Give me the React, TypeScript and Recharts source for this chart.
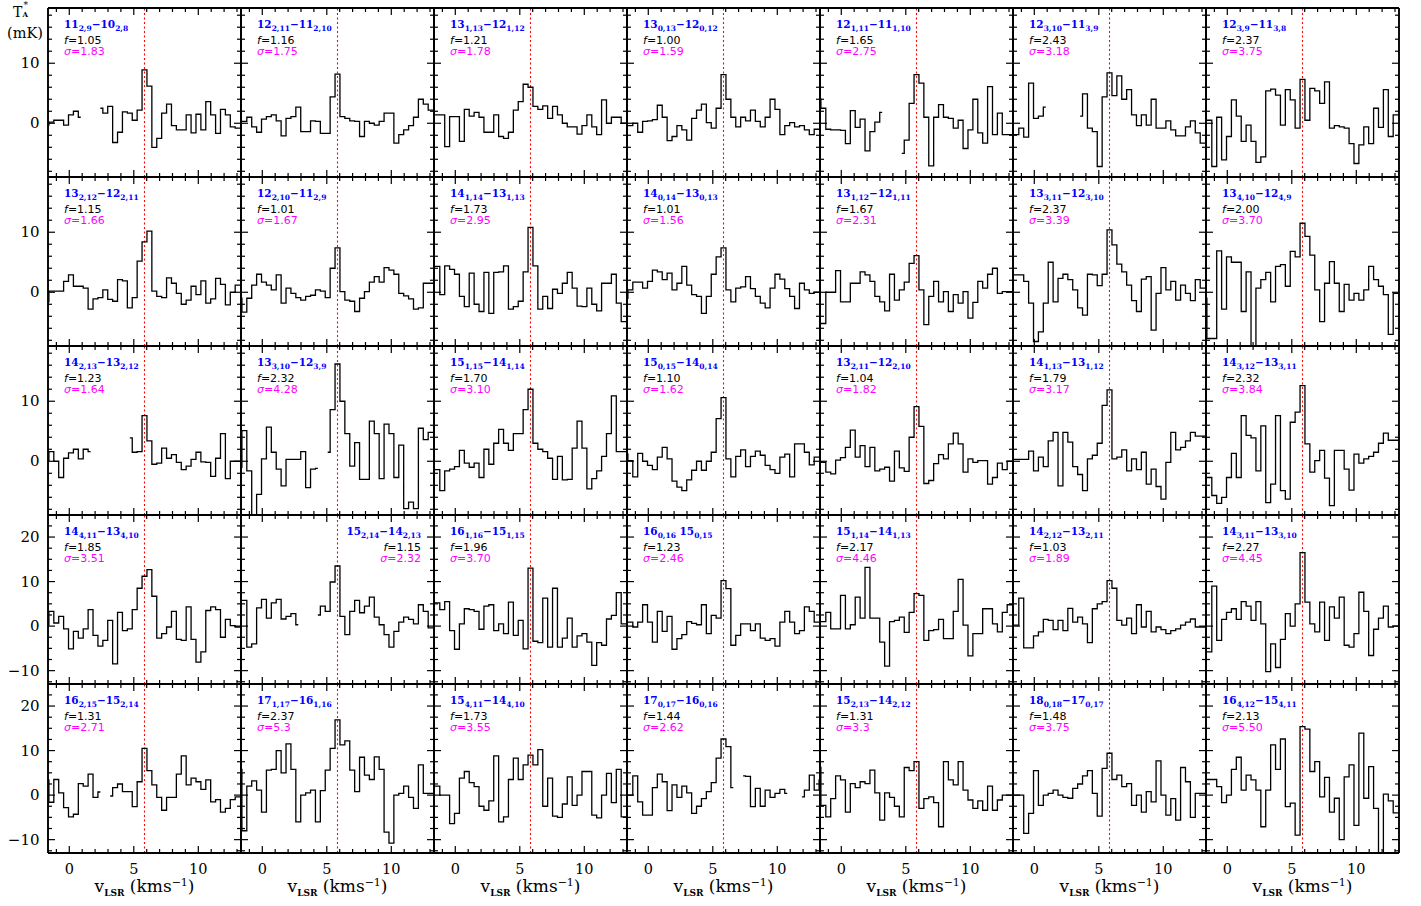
import React from "react";
import { LineChart, Line, XAxis, YAxis, ReferenceLine } from "recharts";

// channel centres in km/s, shared by every panel
const VELO = [-1.77, -1.39, -1.01, -0.63, -0.25, 0.13, 0.51, 0.89, 1.27, 1.65, 2.03, 2.41, 2.79, 3.17, 3.55, 3.93, 4.31, 4.69, 5.07, 5.45, 5.83, 6.21, 6.59, 6.97, 7.35, 7.73, 8.11, 8.49, 8.87, 9.25, 9.63, 10.01, 10.39, 10.77, 11.15, 11.53, 11.91, 12.29, 12.67, 13.05, 13.43];

// antenna temperature (mK) per panel, null = blanked channel
const S01 = [-0.3, 0.2, 0.5, 0.5, -0.3, 1.4, 2.0, 1.0, null, null, null, 2.5, 1.7, 2.8, -3.2, -1.5, 1.9, 1.7, 0.5, 2.2, 8.9, 6.2, -4.0, -2.5, 1.7, 3.2, -0.4, -1.1, -1.1, 1.4, -1.6, 1.5, -1.1, 3.6, 1.4, -1.7, 2.3, 1.4, -0.6, -0.8, -0.8];
const S02 = [0.3, 0.3, 1.0, -0.6, -1.5, 0.7, 1.1, 1.4, 0.4, -2.1, 0.8, 1.1, 2.7, -1.4, -1.4, 0.4, 0.3, -1.7, -1.7, 4.4, 8.2, 1.1, 0.8, 0.4, 0.3, -2.2, 0.3, 0.0, -0.3, 0.3, 1.7, 1.7, -3.3, -1.9, -1.1, -0.4, 1.0, 4.0, 3.2, 2.2, 2.2];
const S03 = [1.4, 1.4, 1.4, -3.9, 1.1, 1.1, -3.0, 2.3, 1.2, 1.8, 1.0, -1.5, -1.5, 1.4, -2.2, -2.5, -1.5, 2.2, 3.6, 6.5, 6.0, 2.8, 2.3, 2.9, 0.8, 2.8, 1.4, 0.0, -0.6, -0.6, -1.8, -0.4, 1.4, -0.6, -1.9, 3.9, 0.0, 1.0, 1.0, 0.0, 0.0];
const S04 = [-0.4, -0.4, 0.0, -1.5, 0.3, 0.4, 0.6, 3.0, 1.0, -2.9, -2.2, -0.4, -1.1, -2.8, 0.8, 2.2, 3.2, 0.1, -0.8, 2.5, 8.1, 4.0, 1.0, -0.6, 1.0, 0.4, 2.2, 0.3, -0.6, 1.0, 4.0, 2.3, -1.9, -0.4, 0.1, -0.6, -0.4, -1.1, -1.9, -1.0, -1.0];
const S05 = [4.0, 2.5, -1.0, -1.1, -1.1, -1.2, -3.4, 2.1, -0.7, 0.7, -4.6, -1.4, 0.2, 1.8, null, null, null, -5.0, -2.8, 3.3, 8.1, 6.7, 1.0, -7.1, 1.0, 3.1, 1.0, 0.8, -0.8, 0.5, -4.2, -1.1, 4.0, -1.6, -3.3, 6.1, -1.9, 1.7, -1.9, -1.9, -1.9];
const S06 = [-1.9, -1.9, -0.8, -2.3, 6.7, 0.8, 1.2, 2.7, null, null, null, null, null, null, 1.2, 4.9, -0.8, -1.4, -7.2, 4.4, 8.4, 4.6, 7.9, 4.0, 5.6, 1.4, -0.4, 1.4, -0.3, 4.0, -0.8, -0.8, 0.4, -1.1, -2.1, -2.1, -0.6, 0.4, -1.6, -3.3, -3.3];
const S07 = [0.5, 0.5, -7.2, 1.0, -6.1, -2.2, 3.9, 1.2, -3.0, -0.3, -3.0, -6.5, -5.6, 5.4, 5.7, 4.7, -0.3, 5.6, 3.9, -0.8, 7.3, 0.5, 5.8, 5.4, 3.3, 6.9, -0.8, -0.4, -0.6, -0.8, -3.4, -6.7, -3.6, -0.6, -3.4, 2.5, -0.7, 5.6, -2.2, 1.4, 1.4];
const S08 = [-1.6, 0.2, 0.2, 0.2, 1.8, 2.9, 1.0, 1.0, 0.7, -2.8, -1.1, -0.9, 0.4, -1.2, -1.5, 2.1, 1.9, -2.6, -0.9, 5.2, 8.4, 10.2, 0.2, -0.7, -0.9, 2.4, 1.5, -0.2, -2.0, -1.3, 1.0, -0.4, 1.9, -1.8, -1.1, 2.3, 1.3, -2.1, 0.0, 1.2, 1.2];
const S09 = [-1.0, -3.3, -1.0, 1.2, 3.0, 1.7, 1.2, 0.4, 2.9, -1.8, 0.7, -0.2, -0.9, -1.3, -0.7, -0.5, 0.4, 0.2, -0.9, 4.0, 7.4, 0.1, -1.3, -1.5, -3.2, -1.0, 0.1, 1.7, 2.6, 1.7, 4.1, 3.7, 3.0, -0.2, -0.6, -1.1, -2.8, -2.6, 1.5, 1.5, 1.5];
const S10 = [4.3, 4.3, -0.4, 4.4, 3.8, 3.0, -0.7, -2.4, 3.2, -2.0, -3.2, 3.3, -3.5, 3.3, 3.4, 4.4, -2.8, -2.4, -1.5, 3.4, 10.8, 4.4, -2.8, -0.7, -2.7, 0.5, -0.2, 1.5, 3.3, 0.7, -2.3, -2.4, 0.7, -2.0, -3.1, 1.5, 1.5, 3.0, -1.8, -4.9, -4.9];
const S11 = [-1.0, 0.4, 1.7, 1.7, 0.7, 1.8, 3.7, 3.4, 2.1, 3.2, 0.4, 1.5, 4.3, 1.2, -0.4, -0.7, -3.5, -0.7, 3.0, 5.9, 7.4, 0.4, -1.6, 0.7, 0.9, 2.6, 0.6, -0.7, -1.8, -2.6, 0.7, 3.0, 2.2, 0.6, -0.7, -2.7, 1.5, 0.4, -0.2, 0.0, 0.0];
const S12 = [-5.2, -5.2, 0.0, 0.0, 3.6, -1.6, -1.6, 1.5, 1.5, 3.4, 2.9, 1.8, -0.7, -1.6, -3.1, 3.0, -1.3, 0.4, 1.7, 4.8, 6.1, 0.4, -5.4, -0.7, 1.8, -1.6, 0.1, -3.2, -0.4, -1.8, 0.1, -4.3, -1.7, 1.8, 0.7, 3.0, 4.0, -0.2, 0.1, 0.1, 0.1];
const S13 = [2.9, 2.9, 2.9, 1.8, -1.8, -8.2, -6.6, -1.8, 5.0, -1.6, 2.3, 3.0, 2.1, 0.4, -2.6, -3.8, 3.0, 2.9, 1.1, 3.0, 10.4, 7.9, 4.7, 3.4, 1.2, -1.4, -3.2, 2.2, 2.6, -6.3, -0.2, 4.1, 0.4, 1.8, -1.3, 1.2, -0.2, -1.4, 2.1, 0.7, 0.7];
const S14 = [-1.0, -7.7, -7.7, 6.9, -2.8, 5.9, 5.0, 5.0, -3.2, 3.4, -10.0, 0.7, 2.1, 3.3, -1.6, 4.3, 4.6, 1.0, 6.8, 5.9, 11.5, 9.3, 6.2, 0.4, -4.9, 1.5, 5.1, 1.5, -3.2, 1.3, -1.3, -0.2, -1.3, 0.4, 4.3, 2.1, 1.0, -0.4, -7.0, -0.2, -0.2];
const S15 = [0.0, 1.6, 0.0, -2.7, 0.5, 1.4, 2.0, 0.4, 2.0, 1.6, null, null, null, null, null, null, null, 3.9, 1.5, 1.6, 7.6, 3.4, -0.5, -0.3, 2.2, 0.5, 1.1, -0.2, -1.4, -0.8, 0.3, 1.5, -0.1, -0.2, -2.5, 0.5, 4.6, -2.9, 0.0, 0.0, 0.0];
const S16 = [-1.0, 5.1, -1.6, -9.5, -5.5, 0.4, 5.7, 1.5, -1.3, -4.1, 0.3, 0.3, 0.3, 1.6, -4.4, -1.3, -1.2, null, 1.5, 8.6, 16.2, 10.0, 4.6, -0.8, 3.1, -3.0, -3.0, 6.7, 4.6, -2.9, 6.2, 4.6, -2.7, 2.7, -7.9, -6.8, -7.9, 5.5, 3.6, 4.8, 4.8];
const S17 = [-1.4, -1.4, -4.9, -1.6, -1.3, -0.9, 1.8, -0.3, -1.0, -0.3, -2.7, 2.0, -0.5, 3.0, 5.3, 3.0, 1.8, 4.6, 4.6, 8.6, 12.0, 3.0, 2.0, 1.6, 0.5, -3.0, 0.8, -3.1, -3.0, 2.2, 6.7, 2.2, -4.6, -2.9, -1.6, 0.8, 4.6, 10.9, 1.6, 1.6, 1.6];
const S18 = [1.2, 0.1, -2.6, 1.3, 0.0, -0.7, -1.4, 0.7, 2.3, 0.4, -3.3, -4.3, -4.9, -3.1, -1.5, 0.0, -1.5, 0.0, 1.5, 7.1, 10.6, 0.4, -2.6, 0.8, 1.9, -0.9, 0.8, 1.7, 1.0, -0.7, -1.4, -2.0, 0.7, 1.2, -2.6, 2.9, 2.9, 1.5, -0.6, 0.7, 0.7];
const S19 = [-0.2, -0.2, -1.8, -2.1, 0.2, 0.6, 2.3, 5.2, 0.7, 2.6, -0.9, 2.3, -1.6, -1.3, -1.0, -3.3, 1.7, -1.1, -1.7, 4.0, 9.1, 5.8, -3.7, -3.2, -0.4, 1.1, 0.4, 2.9, 4.7, 2.9, -1.8, 0.4, -0.2, 0.1, 0.1, -3.8, -2.7, -0.3, -1.4, 0.0, 0.0];
const S20 = [0.3, 0.3, 0.3, 0.3, 1.7, -1.6, 0.7, -0.9, 3.4, 4.8, -4.1, 4.8, 3.2, -0.9, -2.2, -4.9, 0.4, 1.0, 3.0, 9.3, 11.9, 0.4, 0.7, 1.9, -1.6, 0.4, -1.4, 1.5, -3.8, -1.3, -4.2, -6.3, -0.2, 4.8, 1.9, 2.3, 3.4, 4.8, 4.2, 4.2, 4.2];
const S21 = [-2.7, -2.7, -5.7, -7.0, -6.0, -2.7, 1.3, -2.7, 7.6, 4.3, 3.9, -1.6, 5.9, -6.9, -3.8, 7.6, -4.9, -6.3, 6.5, 8.2, 12.6, 2.9, -1.8, 0.1, 1.8, -2.8, -7.4, 1.8, 1.8, -1.3, -4.8, 1.2, -0.3, 0.4, 0.8, 1.5, 3.0, 4.7, 3.5, 3.5, 3.5];
const S22 = [0.3, 3.3, 0.7, 2.2, -0.6, -5.1, -1.2, -2.7, -0.6, 3.7, -2.1, -4.5, -3.2, 1.3, -8.5, 3.1, -1.0, -0.6, 3.7, 8.5, 11.2, 12.7, 6.7, -2.7, -1.7, -0.2, 3.3, -3.0, -3.2, 4.3, -3.0, -8.1, -5.8, 3.5, 4.3, 3.7, -2.5, 1.5, 0.1, -0.2, -0.2];
const S23 = [5.8, 5.8, -4.7, -4.0, 4.1, 6.0, 1.8, 5.2, 6.0, 1.6, 2.2, 2.8, 0.3, null, null, null, 2.5, 4.5, 3.3, 9.9, 13.5, 2.2, -1.9, 3.3, 5.8, 3.0, 4.5, 6.5, 2.0, 0.3, -1.9, -4.7, -1.2, 0.9, 2.0, 1.5, 0.5, 4.8, 3.3, -0.4, -0.4];
const S24 = [5.2, 5.2, 3.7, 5.5, -1.0, -5.2, 0.5, 3.9, 3.7, 3.3, -0.7, 4.5, 4.8, -1.0, 0.5, -1.7, 5.4, -2.1, 1.3, -5.1, 13.0, -3.4, -3.7, 6.3, -4.7, 8.5, -4.7, -2.7, 1.8, -4.7, -2.2, -1.7, -3.6, -8.8, -3.7, -4.3, 1.6, 2.4, 7.5, 0.5, 0.5];
const S25 = [0.9, 0.9, -0.2, 0.9, 4.8, 0.9, -3.6, 3.3, -1.2, 2.2, -5.2, -2.8, -1.9, 1.0, 0.6, 0.3, 4.8, -1.7, 2.4, 1.8, 10.2, 8.4, -4.3, -2.1, 0.5, 0.5, -1.0, 0.5, -2.7, -3.2, -2.8, -4.5, 0.9, 3.3, 0.9, -1.7, -1.0, 4.3, 3.3, 0.9, 0.9];
const S26 = [1.0, 1.0, 3.1, -0.6, -0.6, 6.9, -0.6, 0.3, 6.5, 1.8, 13.2, 1.8, 1.8, -3.6, -9.0, 1.0, 1.3, 2.0, -1.4, 3.1, 7.3, 6.9, -3.2, -1.0, -0.8, 1.5, -2.8, -2.8, 3.3, 10.5, 0.2, -6.7, -1.7, -1.7, 3.9, 3.9, 0.5, -1.3, 3.1, 4.8, 4.8];
const S27 = [0.2, 0.2, 6.3, -4.9, -4.9, -2.2, -1.3, 1.5, 1.3, -0.8, 1.3, -1.0, 4.0, 0.9, 2.0, 0.5, -3.7, 3.9, 5.0, 5.5, 10.2, 8.5, 1.3, 0.2, 1.8, -1.7, 4.8, -0.2, 3.3, -1.3, -0.2, -0.8, -1.7, -1.0, -0.6, 0.2, 0.9, 1.6, -0.2, -0.2, -0.2];
const S28 = [-5.8, -5.8, 9.0, -3.2, 1.5, 3.1, 3.9, 1.5, 5.5, 4.5, 1.3, 5.5, 0.5, -10.2, -4.0, -9.3, -3.0, 2.8, 0.0, 5.0, 16.5, 5.4, 0.5, -1.3, 5.4, -3.2, 4.3, 1.8, 6.5, -4.3, -4.7, -1.7, 7.6, 3.3, -6.6, -0.7, 1.8, 4.5, -0.2, 0.0, 0.0];
const S29 = [3.4, -1.6, 3.5, 0.5, -2.8, -4.9, -4.3, 2.6, 2.0, 4.7, -0.5, 0.7, null, -0.2, 1.7, 2.5, 0.8, 0.8, -2.6, 3.0, 10.5, 5.5, 2.3, -0.5, -3.4, -0.5, -0.5, 4.7, 8.8, 2.3, 3.8, 3.0, 1.3, 3.4, -1.5, -1.0, -3.8, -3.0, -1.0, -0.4, -0.4];
const S30 = [5.8, -8.0, 2.0, 3.2, 1.1, -3.8, 5.6, 5.8, 10.0, 5.0, 11.5, 5.8, -6.0, 0.0, 0.5, 1.1, -6.0, 1.0, 5.6, 10.5, 16.9, 11.3, 12.2, 5.6, 0.8, 8.5, 4.5, 3.5, 8.6, 5.8, -8.3, -10.8, 0.0, 0.4, 2.0, -0.5, -3.0, 6.8, 0.4, 0.4, 0.4];
const S31 = [2.0, 2.0, 0.0, 0.0, -6.4, -4.1, 3.8, 5.3, 2.8, 1.9, -2.5, -3.4, -1.3, 8.8, -6.0, -4.9, 3.5, 8.3, 3.5, 6.8, 9.0, 6.8, 10.2, -2.5, 3.8, -4.7, -5.0, -2.0, 4.1, -2.3, 0.0, 5.3, 5.3, -4.5, -5.1, 0.0, 4.9, -1.7, 5.8, -4.9, -4.9];
const S32 = [0.0, 0.0, 4.3, -1.5, -4.5, -4.5, 1.7, 4.7, 3.0, -3.5, 2.3, -0.5, 2.0, 0.5, -4.1, -2.5, -0.8, 0.8, 2.8, 8.3, 12.6, 10.9, 1.7, null, 4.3, 4.2, -2.6, 1.5, -2.5, 1.1, -0.5, 0.4, 1.3, 0.4, null, null, -0.4, 1.1, 4.5, 1.1, 3.4];
const S33 = [6.2, -2.3, -4.9, -0.8, 4.3, 3.4, -3.8, 2.6, 1.7, 3.0, 2.6, 5.6, 0.5, -5.6, 0.5, -0.5, -2.5, -4.9, 6.2, 5.5, 7.5, -3.0, -0.8, -0.4, -1.7, -7.1, 7.5, 3.4, 2.3, 7.5, 1.1, -1.1, -3.0, -1.3, -3.4, 2.0, -3.4, -1.1, 0.0, 0.0, 0.0];
const S34 = [0.0, 0.0, 0.0, -8.6, -4.1, 5.5, -2.3, 0.0, 0.4, 1.1, 0.0, -0.5, -0.7, 1.5, 2.5, 4.3, 5.5, 0.4, -4.7, 6.0, 9.4, 3.5, 4.5, 1.9, 2.6, -2.3, 0.0, -3.8, 0.8, -1.5, 7.7, 0.0, -4.5, -0.8, -5.6, 6.2, 3.0, -5.0, 0.4, 0.4, 0.4];
const S35 = [3.5, 3.5, 3.5, 1.9, -1.7, 0.0, 5.8, 8.5, 1.1, 4.5, 3.4, 1.1, -7.1, 1.1, 11.3, 5.8, 12.6, -2.6, -1.8, -9.0, 15.4, 14.8, 5.3, 7.5, -0.4, 4.0, -3.8, -0.7, -10.0, 4.1, 6.8, -6.8, 13.9, -0.7, 6.4, -3.0, -14.0, 0.2, -1.3, -4.0, -4.0];

const SPECTRA = [S01, S02, S03, S04, S05, S06, S07, S08, S09, S10, S11, S12, S13, S14, S15, S16, S17, S18, S19, S20, S21, S22, S23, S24, S25, S26, S27, S28, S29, S30, S31, S32, S33, S34, S35];

// transition labels J_Ka,Kc
const UPPER = ["11", "12", "13", "13", "12", "12", "12", "13", "12", "14", "14", "13", "13", "13", "14", "13", "15", "15", "13", "14", "14", "14", "15", "16", "16", "15", "14", "14", "16", "17", "15", "17", "15", "18", "16"];
const UPPER_K = ["2,9", "2,11", "1,13", "0,13", "1,11", "3,10", "3,9", "2,12", "2,10", "1,14", "0,14", "1,12", "3,11", "4,10", "2,13", "3,10", "1,15", "0,15", "2,11", "1,13", "3,12", "4,11", "2,14", "1,16", "0,16", "1,14", "2,12", "3,11", "2,15", "1,17", "4,11", "0,17", "2,13", "0,18", "4,12"];
const LOWER = ["10", "11", "12", "12", "11", "11", "11", "12", "11", "13", "13", "12", "12", "12", "13", "12", "14", "14", "12", "13", "13", "13", "14", "15", "15", "14", "13", "13", "15", "16", "14", "16", "14", "17", "15"];
const LOWER_K = ["2,8", "2,10", "1,12", "0,12", "1,10", "3,9", "3,8", "2,11", "2,9", "1,13", "0,13", "1,11", "3,10", "4,9", "2,12", "3,9", "1,14", "0,14", "2,10", "1,12", "3,11", "4,10", "2,13", "1,15", "0,15", "1,13", "2,11", "3,10", "2,14", "1,16", "4,10", "0,16", "2,12", "0,17", "4,11"];
const F_FACTOR = ["1.05", "1.16", "1.21", "1.00", "1.65", "2.43", "2.37", "1.15", "1.01", "1.73", "1.01", "1.67", "2.37", "2.00", "1.23", "2.32", "1.70", "1.10", "1.04", "1.79", "2.32", "1.85", "1.15", "1.96", "1.23", "2.17", "1.03", "2.27", "1.31", "2.37", "1.73", "1.44", "1.31", "1.48", "2.13"];
const SIGMA = ["1.83", "1.75", "1.78", "1.59", "2.75", "3.18", "3.75", "1.66", "1.67", "2.95", "1.56", "2.31", "3.39", "3.70", "1.64", "4.28", "3.10", "1.62", "1.82", "3.17", "3.84", "3.51", "2.32", "3.70", "2.46", "4.46", "1.89", "4.45", "2.71", "5.3", "3.55", "2.62", "3.3", "3.75", "5.50"];
const NO_DASH = [24];
const RIGHT_LABEL = [22];

const X_TICKS = [-1, 0, 1, 2, 3, 4, 5, 6, 7, 8, 9, 10, 11, 12, 13];
const Y_TICKS_LOW = [-8, -6, -4, -2, 0, 2, 4, 6, 8, 10, 12, 14, 16, 18];
const Y_TICKS_HIGH = [-12.5, -10, -7.5, -5, -2.5, 0, 2.5, 5, 7.5, 10, 12.5, 15, 17.5, 20, 22.5];
const V_SYS = 5.83;

const X0 = 48;
const Y0 = 8;
const PW = 193;
const PH = 169;
const X_DOMAIN: [number, number] = [-1.65, 13.31];
const Y_DOMAIN_LOW: [number, number] = [-8.95, 19.2];
const Y_DOMAIN_HIGH: [number, number] = [-13, 24.95];

const SERIF = '"DejaVu Serif", serif';
const SANS = '"DejaVu Sans", sans-serif';
const FRAME = { stroke: "#000", strokeWidth: 1.9 };

const fmt = (v: number) => (v < 0 ? `\u2212${Math.abs(v)}` : `${v}`);
const onStep = (v: number, step: number) => Math.abs(v / step - Math.round(v / step)) < 1e-6;

function xTick(side: "bottom" | "top", label: boolean) {
  return (p: any) => {
    const { x, y, payload } = p;
    const major = onStep(payload.value, 5);
    const len = major ? 7 : 4;
    const dir = side === "bottom" ? -1 : 1;
    return (
      <g>
        <line x1={x} x2={x} y1={y} y2={y + dir * len} stroke="#000" strokeWidth={1.2} />
        {label && major && (
          <text x={x} y={y + 16} textAnchor="middle" dominantBaseline="central" fontFamily={SERIF} fontSize={14.5} fill="#000">
            {fmt(payload.value)}
          </text>
        )}
      </g>
    );
  };
}

function yTick(side: "left" | "right", label: boolean) {
  return (p: any) => {
    const { x, y, payload } = p;
    const major = onStep(payload.value, 10);
    const len = major ? 7 : 4;
    const dir = side === "left" ? 1 : -1;
    return (
      <g>
        <line x1={x} x2={x + dir * len} y1={y} y2={y} stroke="#000" strokeWidth={1.2} />
        {label && major && (
          <text x={x - 8.5} y={y} textAnchor="end" dominantBaseline="central" fontFamily={SERIF} fontSize={15} fill="#000">
            {fmt(payload.value)}
          </text>
        )}
      </g>
    );
  };
}

// each chart is 1px larger on every side so that 1px-thick axes sit exactly on the frame
function Panel({ index }: { index: number }) {
  const row = Math.floor(index / 7);
  const col = index % 7;
  const high = row >= 3;
  const yDomain = high ? Y_DOMAIN_HIGH : Y_DOMAIN_LOW;
  const yTicks = high ? Y_TICKS_HIGH : Y_TICKS_LOW;
  const data = VELO.map((v, k) => ({ v, t: SPECTRA[index][k] }));
  const axisCommon = { tickLine: false, tickSize: 0, tickMargin: 0, interval: 0 as const, allowDataOverflow: true, axisLine: FRAME };

  return (
    <div style={{ position: "absolute", left: X0 + col * PW - 1, top: Y0 + row * PH - 1 }}>
      <LineChart width={PW + 2} height={PH + 2} data={data} margin={{ top: 0, right: 0, bottom: 0, left: 0 }}>
        <XAxis xAxisId="b" dataKey="v" type="number" domain={X_DOMAIN} ticks={X_TICKS} height={1} tick={xTick("bottom", row === 4)} {...axisCommon} />
        <XAxis xAxisId="t" dataKey="v" type="number" orientation="top" domain={X_DOMAIN} ticks={X_TICKS} height={1} tick={xTick("top", false)} {...axisCommon} />
        <YAxis yAxisId="l" type="number" domain={yDomain} ticks={yTicks} width={1} tick={yTick("left", col === 0)} {...axisCommon} />
        <YAxis yAxisId="r" type="number" orientation="right" domain={yDomain} ticks={yTicks} width={1} tick={yTick("right", false)} {...axisCommon} />
        <ReferenceLine xAxisId="b" yAxisId="l" x={V_SYS} stroke="#ff0000" strokeWidth={1.1} strokeDasharray="2 2.5" />
        <Line
          xAxisId="b"
          yAxisId="l"
          type="step"
          dataKey="t"
          stroke="#000"
          strokeWidth={1.3}
          dot={false}
          activeDot={false}
          connectNulls={false}
          isAnimationActive={false}
        />
      </LineChart>
    </div>
  );
}

const SUB: React.CSSProperties = { fontSize: 7.5, position: "relative", top: 2.5 };

function PanelLabels({ index }: { index: number }) {
  const row = Math.floor(index / 7);
  const col = index % 7;
  const left = X0 + col * PW;
  const top = Y0 + row * PH;
  const pos: React.CSSProperties = RIGHT_LABEL.includes(index)
    ? { right: 1421 - (left + PW - 13), textAlign: "right" }
    : { left: left + 16 };
  const base: React.CSSProperties = { position: "absolute", whiteSpace: "nowrap", ...pos };
  return (
    <>
      <div style={{ ...base, top: top + 10.3, lineHeight: "12px", fontFamily: SERIF, fontWeight: "bold", fontSize: 10.5, color: "#0000ff" }}>
        {UPPER[index]}
        <span style={SUB}>{UPPER_K[index]}</span>
        {NO_DASH.includes(index) ? " " : "\u2212"}
        {LOWER[index]}
        <span style={SUB}>{LOWER_K[index]}</span>
      </div>
      <div style={{ ...base, top: top + 25.5, lineHeight: "13px", fontFamily: SANS, fontSize: 11, color: "#000" }}>
        <i>f</i>={F_FACTOR[index]}
      </div>
      <div style={{ ...base, top: top + 37.2, lineHeight: "13px", fontFamily: SANS, fontSize: 11, color: "#ff00ff" }}>
        <i>σ</i>={SIGMA[index]}
      </div>
    </>
  );
}

function XTitle({ col }: { col: number }) {
  return (
    <div
      style={{
        position: "absolute",
        left: X0 + col * PW,
        width: PW,
        top: 878,
        height: 16,
        lineHeight: "16px",
        textAlign: "center",
        fontFamily: SERIF,
        fontSize: 17,
        color: "#000",
        whiteSpace: "nowrap",
      }}
    >
      v<span style={{ fontSize: 9, fontWeight: "bold", position: "relative", top: 4 }}>LSR</span> (kms
      <span style={{ fontSize: 11, position: "relative", top: -6 }}>{"\u22121"}</span>)
    </div>
  );
}

export default function App() {
  return (
    <div style={{ position: "absolute", left: 0, top: 0, width: 1421, height: 906, background: "#fff", overflow: "hidden" }}>
      <style>{".recharts-surface{overflow:visible}"}</style>
      {SPECTRA.map((_, i) => (
        <Panel key={i} index={i} />
      ))}
      {SPECTRA.map((_, i) => (
        <PanelLabels key={`l${i}`} index={i} />
      ))}
      {[0, 1, 2, 3, 4, 5, 6].map((c) => (
        <XTitle key={`x${c}`} col={c} />
      ))}
      <div style={{ position: "absolute", left: 13, top: 4, fontFamily: SERIF, fontSize: 14, lineHeight: "17px", color: "#000" }}>T</div>
      <div style={{ position: "absolute", left: 23.5, top: 0, fontFamily: SERIF, fontSize: 9, lineHeight: "10px", color: "#000" }}>*</div>
      <div style={{ position: "absolute", left: 22.5, top: 10.5, fontFamily: SERIF, fontWeight: "bold", fontSize: 7, lineHeight: "8px", color: "#000" }}>A</div>
      <div style={{ position: "absolute", left: 7, top: 25, fontFamily: SERIF, fontSize: 14.5, lineHeight: "17px", color: "#000" }}>(mK)</div>
    </div>
  );
}
